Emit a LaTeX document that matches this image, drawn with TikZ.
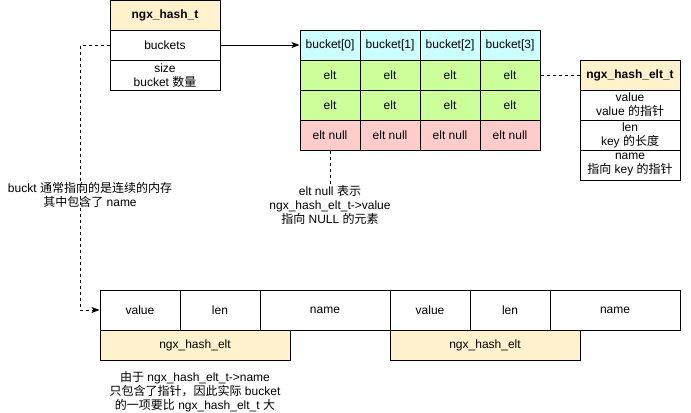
\documentclass[tikz,border=0pt]{standalone}
\usepackage{fontspec}
\setmainfont{Liberation Sans}
\newfontfamily\cjk{Noto Sans CJK SC}
\usetikzlibrary{arrows.meta}
\definecolor{hdr}{HTML}{FFF2CC}
\definecolor{bkt}{HTML}{CCFFFF}
\definecolor{elt}{HTML}{CCFF99}
\definecolor{nul}{HTML}{FFCCCC}
\begin{document}
\lineskiplimit=-20pt
\begin{tikzpicture}[x=0.75pt,y=-0.75pt,
  font=\fontsize{9}{10.5}\selectfont,
  cell/.style={draw=black, line width=0.75pt, inner sep=0pt, align=center, text=black},
  hb/.style={cell, fill=hdr, font=\fontsize{9}{10.5}\selectfont\bfseries},
  bc/.style={cell, fill=bkt, minimum width=45pt, minimum height=22.5pt},
  ec/.style={cell, fill=elt, minimum width=45pt, minimum height=22.5pt},
  nc/.style={cell, fill=nul, minimum width=45pt, minimum height=22.5pt},
  wc/.style={cell, fill=white, minimum height=30pt},
  conn/.style={line width=0.75pt, draw=black},
  dconn/.style={conn, dash pattern=on 2.25pt off 2.25pt},
  tip/.style={-{Stealth[length=6pt,width=4.5pt,inset=1.5pt]}},
  note/.style={align=center, inner sep=1pt, text=black}
]
\useasboundingbox (0,0) rectangle (691,412);

% ngx_hash_t
\node[hb, minimum width=82.5pt, minimum height=22.5pt] (ht) at (165,15) {ngx\_hash\_t};
\node[cell, minimum width=82.5pt, minimum height=22.5pt] (hbk) at (165,45) {buckets};
\node[cell, minimum width=82.5pt, minimum height=22.5pt] (hsz) at (165,75.5) {size\\bucket {\cjk 数量}};

% bucket array
\foreach \i/\x in {0/330,1/390,2/450,3/510}{
  \node[bc] (b\i) at (\x,45) {bucket[\i]};
  \node[ec] (e\i) at (\x,75) {elt};
  \node[ec] (f\i) at (\x,105) {elt};
  \node[nc] (n\i) at (\x,135) {elt null};
}

% ngx_hash_elt_t
\node[hb, minimum width=75pt, minimum height=22.5pt] (het) at (630,75) {ngx\_hash\_elt\_t};
\node[cell, minimum width=75pt, minimum height=22.5pt] (hv) at (630,105) {value\\value {\cjk 的指针}};
\node[cell, minimum width=75pt, minimum height=22.5pt] (hl) at (630,135) {len\\key {\cjk 的长度}};
\node[cell, minimum width=75pt, minimum height=22.5pt] (hn) at (630,165) {name\\{\cjk 指向} key {\cjk 的指针}};

% bottom memory row
\node[wc, minimum width=60pt] (v1) at (140,310) {value};
\node[wc, minimum width=60pt] (l1) at (220,310) {len};
\node[wc, minimum width=97.5pt] (m1) at (325,310) {name};
\node[wc, minimum width=60pt] (v2) at (430,310) {value};
\node[wc, minimum width=60pt] (l2) at (510,310) {len};
\node[wc, minimum width=97.5pt] (m2) at (615,310) {name};
\node[cell, fill=hdr, minimum width=142.5pt, minimum height=22.5pt] (g1) at (195,345) {ngx\_hash\_elt};
\node[cell, fill=hdr, minimum width=142.5pt, minimum height=22.5pt] (g2) at (485,345) {ngx\_hash\_elt};

% notes
\node[note] (tl) at (90,195) {buckt {\cjk 通常指向的是连续的内存}\\{\cjk 其中包含了} name};
\node[note, anchor=north] (tn) at (330,184) {elt null {\cjk 表示}\\ngx\_hash\_elt\_t->value\\{\cjk 指向} NULL {\cjk 的元素}};
\node[note] (tb) at (195,391.5) {{\cjk 由于} ngx\_hash\_elt\_t->name\\{\cjk 只包含了指针，因此实际} bucket\\{\cjk 的一项要比} ngx\_hash\_elt\_t {\cjk 大}};

% connectors
\draw[conn, tip] (hbk.east) -- (b0.west);
\coordinate (c1) at (80,310);
\draw[dconn, tip] (hbk.west) -| (c1) -- (v1.west);
\draw[dconn] (e3.east) -- (het.west);
\draw[dconn] (n0.south) -- (tn.north);
\end{tikzpicture}
\end{document}
